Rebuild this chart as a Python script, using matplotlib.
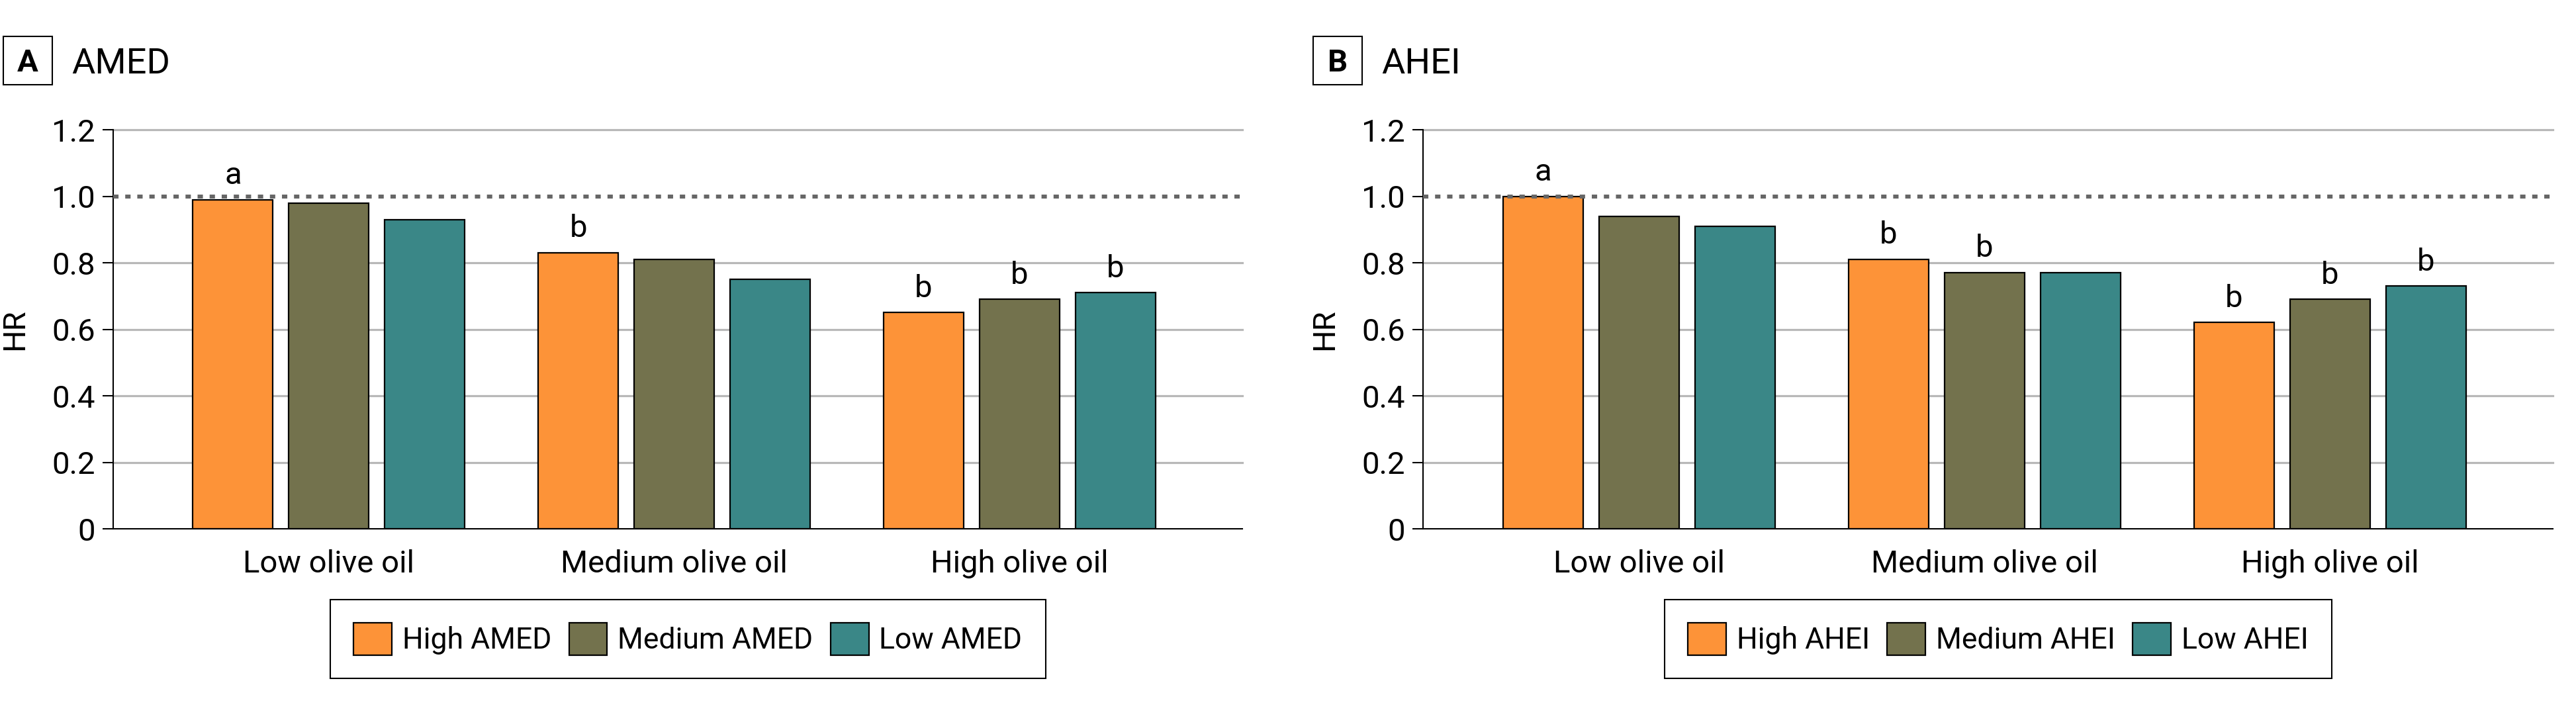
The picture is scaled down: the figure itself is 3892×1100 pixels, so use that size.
import matplotlib.pyplot as plt
from matplotlib.patches import Rectangle
import numpy as np

plt.rcParams["font.family"] = ["Roboto", "DejaVu Sans"]

categories = ["Low olive oil", "Medium olive oil", "High olive oil"]
amed_labels = ["High AMED", "Medium AMED", "Low AMED"]
ahei_labels = ["High AHEI", "Medium AHEI", "Low AHEI"]

amed_high = [0.99, 0.83, 0.65]
amed_medium = [0.98, 0.81, 0.69]
amed_low = [0.93, 0.75, 0.71]
ahei_high = [1.00, 0.81, 0.62]
ahei_medium = [0.94, 0.77, 0.69]
ahei_low = [0.91, 0.77, 0.73]

# significance letters above bars, per series
amed_marks = [["a", "b", "b"], ["", "", "b"], ["", "", "b"]]
ahei_marks = [["a", "b", "b"], ["", "b", "b"], ["", "", "b"]]

y_ticks = [0, 0.2, 0.4, 0.6, 0.8, 1.0, 1.2]
y_tick_labels = ["0", "0.2", "0.4", "0.6", "0.8", "1.0", "1.2"]
colors = ["#FD9338", "#73724D", "#3A8787"]

FS = 34


def draw_panel(ax, series, marks, labels):
    x = np.arange(len(categories))
    width = 0.232
    step = 0.278
    for i, vals in enumerate(series):
        pos = x + (i - 1) * step
        ax.bar(pos, vals, width, color=colors[i], edgecolor="black",
               linewidth=1.6, label=labels[i], zorder=2)
        for p, v, m in zip(pos, vals, marks[i]):
            if m:
                ax.annotate(m, (p, v), xytext=(0, 17), textcoords="offset points",
                            ha="center", va="baseline", fontsize=FS)

    for t in y_ticks[1:]:
        if t == 1.0:
            continue
        ax.axhline(t, color="#b8b8b8", linewidth=2.3, zorder=1, clip_on=False)
    ax.axhline(1.0, color="#666666", linewidth=4.3, linestyle=(0, (1.35, 1.7)),
               zorder=3)

    ax.set_xlim(-0.625, 2.645)
    ax.set_ylim(0, 1.2)
    ax.set_yticks(y_ticks)
    ax.set_yticklabels(y_tick_labels)
    ax.set_xticks(x)
    ax.set_xticklabels(categories)
    ax.tick_params(axis="y", length=11.5, width=1.5, pad=8, labelsize=FS)
    ax.tick_params(axis="x", length=0, pad=22, labelsize=FS)
    for s in ["top", "right"]:
        ax.spines[s].set_visible(False)
    for s in ["left", "bottom"]:
        ax.spines[s].set_linewidth(1.5)
    ax.set_ylabel("HR", fontsize=FS)
    ax.yaxis.set_label_coords(-0.074, 0.5)

    ax.legend(loc="upper center", bbox_to_anchor=(0.509, -0.177), ncol=3,
              fontsize=32, fancybox=False, edgecolor="black", framealpha=1,
              handlelength=1.3, handleheight=1.3, handletextpad=0.35,
              columnspacing=0.6, borderpad=0.8, borderaxespad=0)
    ax.get_legend().get_frame().set_linewidth(1.5)


def panel_title(fig, x0, letter, title):
    fig.add_artist(Rectangle((x0, 0.8836), 0.019, 0.0664, transform=fig.transFigure,
                             fill=False, edgecolor="black", linewidth=1.5))
    fig.text(x0 + 0.0095, 0.9018, letter, ha="center", va="baseline",
             fontsize=FS, fontweight="bold")
    fig.text(x0 + 0.0265, 0.8991, title, ha="left", va="baseline", fontsize=39)


fig = plt.figure(figsize=(38.92, 11), dpi=100)
ax_a = fig.add_axes([0.0439, 0.2736, 0.4383, 0.5482])
ax_b = fig.add_axes([0.5524, 0.2736, 0.4386, 0.5482])

draw_panel(ax_a, [amed_high, amed_medium, amed_low], amed_marks, amed_labels)
draw_panel(ax_b, [ahei_high, ahei_medium, ahei_low], ahei_marks, ahei_labels)

panel_title(fig, 0.0013, "A", "AMED")
panel_title(fig, 0.5098, "B", "AHEI")

fig.savefig("out.png", dpi=100)
